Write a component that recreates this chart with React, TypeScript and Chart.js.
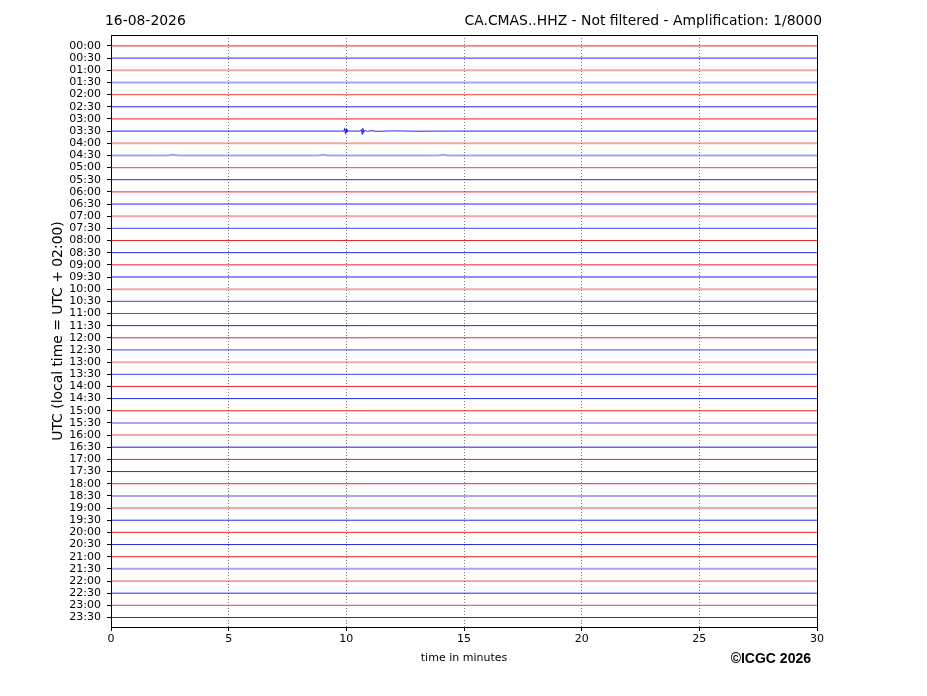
import React, { useEffect, useRef } from "react";
import { Chart, registerables } from "chart.js";

Chart.register(...registerables);

const timeLabels: string[] = [
  "00:00", "00:30", "01:00", "01:30", "02:00", "02:30", "03:00", "03:30",
  "04:00", "04:30", "05:00", "05:30", "06:00", "06:30", "07:00", "07:30",
  "08:00", "08:30", "09:00", "09:30", "10:00", "10:30", "11:00", "11:30",
  "12:00", "12:30", "13:00", "13:30", "14:00", "14:30", "15:00", "15:30",
  "16:00", "16:30", "17:00", "17:30", "18:00", "18:30", "19:00", "19:30",
  "20:00", "20:30", "21:00", "21:30", "22:00", "22:30", "23:00", "23:30",
];

// noise level of each half-hour trace (0 quiet, 1 medium, 2 noisy)
const noiseLevels: number[] = [
  0, 0, 2, 2, 1, 0, 0, 0,
  2, 2, 1, 0, 0, 0, 2, 1,
  0, 0, 0, 1, 2, 1, 0, 0,
  0, 1, 2, 1, 0, 0, 0, 2,
  2, 1, 0, 0, 0, 2, 2, 0,
  0, 0, 0, 2, 2, 0, 1, 0,
];

const xTicks: number[] = [0, 5, 10, 15, 20, 25, 30];

// [minute, amplitude] samples (amplitude in trace spacing units, + = up)
const quietTrace: [number, number][] = [[0, 0], [30, 0]];

const trace0330: [number, number][] = [
  [0, 0], [9.9, 0], [9.93, 0.22], [9.96, -0.2], [9.99, 0.15], [10.02, -0.1],
  [10.06, 0.05], [10.1, 0], [10.6, 0], [10.64, 0.12], [10.67, -0.25],
  [10.7, 0.22], [10.74, -0.12], [10.8, 0.06], [10.9, -0.04], [11.0, 0.03],
  [11.3, -0.02], [12.0, 0.015], [13.0, -0.01], [14.5, 0], [30, 0],
];

const trace0430: [number, number][] = [
  [0, 0], [2.4, 0], [2.6, 0.05], [2.9, 0], [8.8, 0], [9.0, 0.05], [9.2, 0],
  [13.9, 0], [14.1, 0.06], [14.3, 0], [30, 0],
];

const specialTraces: Record<number, [number, number][]> = {
  7: trace0330,
  9: trace0430,
};

const dateText = "16-08-2026";
const stationText = "CA.CMAS..HHZ - Not filtered - Amplification: 1/8000";
const yTitle = "UTC (local time = UTC + 02:00)";
const xTitle = "time in minutes";
const copyright = "©ICGC 2026";

function traceColor(i: number, level: number): string {
  const base = i % 2 === 0 ? [230, 0, 0] : [0, 0, 230];
  const alpha = level === 2 ? 0.35 : level === 1 ? 0.6 : 0.85;
  return `rgba(${base[0]},${base[1]},${base[2]},${alpha})`;
}

export default function App() {
  const ref = useRef<HTMLCanvasElement | null>(null);

  useEffect(() => {
    document.body.style.margin = "0";
    const canvas = ref.current;
    if (!canvas) return;

    const datasets = timeLabels.map((_, i) => {
      const samples = specialTraces[i] || quietTrace;
      const level = noiseLevels[i];
      return {
        label: timeLabels[i],
        data: samples.map(([m, a]) => ({ x: m, y: i - a })),
        borderColor: traceColor(i, level),
        borderWidth: level === 2 ? 2 : level === 1 ? 1.3 : 1,
        pointRadius: 0,
        tension: 0,
        fill: false,
      };
    });

    const decor = {
      id: "decor",
      afterDraw(chart: any) {
        const { ctx, chartArea } = chart;
        const { left, right, top, bottom } = chartArea;
        ctx.save();
        ctx.strokeStyle = "#000";
        ctx.lineWidth = 1;
        ctx.setLineDash([]);
        ctx.beginPath();
        ctx.moveTo(Math.round(left) + 0.5, Math.round(top) + 0.5);
        ctx.lineTo(Math.round(right) + 0.5, Math.round(top) + 0.5);
        ctx.lineTo(Math.round(right) + 0.5, Math.round(bottom) + 0.5);
        ctx.stroke();

        ctx.fillStyle = "#000";
        ctx.font = "13.9px 'DejaVu Sans'";
        ctx.textBaseline = "alphabetic";
        ctx.textAlign = "left";
        ctx.fillText(dateText, 105, 25);
        ctx.textAlign = "right";
        ctx.fillText(stationText, 822, 25);

        ctx.save();
        ctx.translate(62, (top + bottom) / 2);
        ctx.rotate(-Math.PI / 2);
        ctx.textAlign = "center";
        ctx.fillText(yTitle, 0, 0);
        ctx.restore();

        ctx.font = "11px 'DejaVu Sans'";
        ctx.textAlign = "center";
        ctx.fillText(xTitle, (left + right) / 2, 661);

        ctx.font = "bold 14px 'Liberation Sans'";
        ctx.textAlign = "right";
        ctx.fillText(copyright, 811, 663);
        ctx.restore();
      },
    };

    const chart = new Chart(canvas, {
      type: "line",
      data: { datasets },
      plugins: [decor],
      options: {
        animation: false,
        responsive: false,
        maintainAspectRatio: false,
        layout: { padding: { left: 0, top: 35, right: 110, bottom: 0 } },
        plugins: {
          legend: { display: false },
          tooltip: { enabled: false },
          title: { display: false },
        },
        scales: {
          x: {
            type: "linear",
            min: 0,
            max: 30,
            afterFit: (scale: any) => {
              scale.height = 69;
            },
            afterBuildTicks: (scale: any) => {
              scale.ticks = xTicks.map((v) => ({ value: v }));
            },
            ticks: {
              color: "#000",
              font: { family: "DejaVu Sans", size: 11 },
              padding: 2,
              maxRotation: 0,
              autoSkip: false,
            },
            grid: {
              color: (c: any) =>
                c.tick && (c.tick.value === 0 || c.tick.value === 30)
                  ? "rgba(0,0,0,0)"
                  : "#555",
              lineWidth: 0.8,
              tickBorderDash: [],
              tickColor: "#000",
              tickLength: 4,
              tickWidth: 1,
            } as any,
            border: { display: true, color: "#000", width: 1, dash: [1, 2] },
          },
          y: {
            type: "linear",
            min: -0.9,
            max: 47.78,
            reverse: true,
            afterFit: (scale: any) => {
              scale.width = 111;
            },
            afterBuildTicks: (scale: any) => {
              scale.ticks = timeLabels.map((_, i) => ({ value: i }));
            },
            ticks: {
              color: "#000",
              font: { family: "DejaVu Sans", size: 11 },
              padding: 6,
              autoSkip: false,
              callback: (v: any) => timeLabels[Math.round(Number(v))] ?? "",
            },
            grid: {
              drawOnChartArea: false,
              drawTicks: true,
              tickColor: "#000",
              tickLength: 4,
              tickWidth: 1,
            },
            border: { display: true, color: "#000", width: 1 },
          },
        },
      } as any,
    });

    return () => chart.destroy();
  }, []);

  return (
    <div style={{ width: 927, height: 696 }}>
      <canvas ref={ref} width={927} height={696} style={{ display: "block" }} />
    </div>
  );
}
